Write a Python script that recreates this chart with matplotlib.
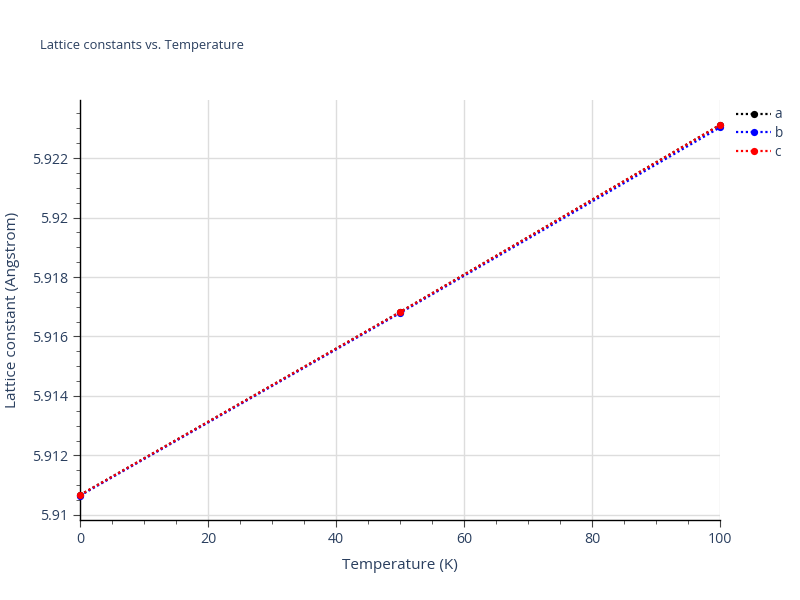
import matplotlib.pyplot as plt
from matplotlib.ticker import MultipleLocator, FuncFormatter

plt.rcParams['font.family'] = ['Open Sans', 'DejaVu Sans']

# Lattice constants
temperature = [0, 50, 100]
lat_a = [5.91067, 5.91682, 5.92311]
lat_b = [5.91065, 5.91679, 5.92303]
lat_c = [5.91067, 5.91682, 5.92311]

series = [("a", lat_a, "black"), ("b", lat_b, "blue"), ("c", lat_c, "red")]
text_color = "#2a3f5f"

fig = plt.figure(figsize=(8, 6), dpi=100)
ax = fig.add_axes([0.1, 0.1333, 0.8, 0.7])

for name, vals, col in series:
    ax.plot(temperature, vals, color=col, linestyle=(0, (1, 1.2)), linewidth=1.6,
            marker="o", markersize=5.2, markeredgewidth=0, label=name,
            clip_on=False, zorder=3)

ax.set_xlim(0, 100)
ax.set_ylim(5.90983, 5.92395)
ax.xaxis.set_major_locator(MultipleLocator(20))
ax.xaxis.set_minor_locator(MultipleLocator(5))
ax.yaxis.set_major_locator(MultipleLocator(0.002))
ax.yaxis.set_minor_locator(MultipleLocator(0.0005))
ax.yaxis.set_major_formatter(FuncFormatter(lambda v, p: ("%.3f" % v).rstrip("0")))

ax.grid(True, which="major", color="#dddddd", linewidth=1, zorder=0)
ax.set_axisbelow(True)
for side in ["top", "right"]:
    ax.spines[side].set_visible(False)
for side in ["left", "bottom"]:
    ax.spines[side].set_color("black")
    ax.spines[side].set_linewidth(1)

ax.tick_params(which="major", length=5, color="#444444", labelcolor=text_color, labelsize=10.2)
ax.tick_params(which="minor", length=3, color="#444444")

ax.set_xlabel("Temperature (K)", color=text_color, fontsize=11, labelpad=8)
ax.set_ylabel("Lattice constant (Angstrom)", color=text_color, fontsize=11, labelpad=9)
fig.text(0.05, 0.925, "Lattice constants vs. Temperature", color=text_color, fontsize=9.3,
         va="center")

leg = ax.legend(loc="upper left", bbox_to_anchor=(1.01, 1.005), frameon=False,
                fontsize=9.8, handlelength=2.6, handletextpad=0.25,
                labelspacing=0.28, borderaxespad=0.3)
for t in leg.get_texts():
    t.set_color(text_color)

fig.savefig("out.png", dpi=100)
